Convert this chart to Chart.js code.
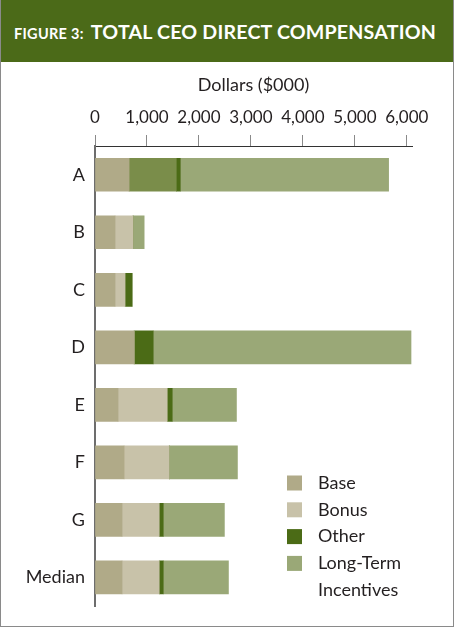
<!DOCTYPE html>
<html>
<head>
<meta charset="utf-8">
<script src="https://cdn.jsdelivr.net/npm/chart.js@4/dist/chart.umd.min.js"></script>
<style>
  html, body { margin: 0; padding: 0; background: #fff; }
  #wrap { position: relative; width: 454px; height: 627px; overflow: hidden; background: #fff; }
  #chart { position: absolute; left: 0; top: 0; }
  #head {
    position: absolute; left: 0; top: 0; width: 454px; height: 62px;
    background: #4b6a18; color: #fff; font-family: Lato, sans-serif;
    line-height: 64px; padding-left: 14px; box-sizing: border-box; white-space: nowrap;
  }
  #head .fig { font-size: 14.5px; font-weight: 700; letter-spacing: 0.3px; margin-right: 7px; }
  #head .main { font-size: 19.6px; font-weight: 700; letter-spacing: 0.2px; }
  #frame {
    position: absolute; left: 0; top: 0; width: 454px; height: 627px; box-sizing: border-box;
    border: 1px solid #8a8a8a; border-top: none; pointer-events: none;
  }
</style>
</head>
<body>
<div id="wrap">
  <canvas id="chart" width="454" height="627" style="width:454px;height:627px"></canvas>
  <div id="head"><span class="fig">FIGURE 3:</span><span class="main">TOTAL CEO DIRECT COMPENSATION</span></div>
  <div id="frame"></div>
</div>
<script>
// values in $000
const categories = ['A', 'B', 'C', 'D', 'E', 'F', 'G', 'Median'];
const base = [656, 386, 386, 753, 444, 560, 521, 521];
const bonus = [908, 347, 193, 0, 946, 869, 715, 715];
const other = [77, 0, 135, 367, 96, 0, 77, 77];
const longTerm = [4009, 213, 0, 4961, 1236, 1312, 1177, 1255];
const xTicks = [0, 1000, 2000, 3000, 4000, 5000, 6000];
const legendLabels = [['Base'], ['Bonus'], ['Other'], ['Long-Term', 'Incentives']];

document.addEventListener('DOMContentLoaded', function () {
    const textColor = '#231f20';
    const font = { family: 'Lato', size: 18 };

    // legend drawn inside the plot, bottom right
    const sideLegend = {
        id: 'sideLegend',
        afterDraw(chart) {
            const ctx = chart.ctx;
            ctx.save();
            ctx.font = '18px Lato';
            ctx.textBaseline = 'middle';
            let y = 483;
            chart.data.datasets.forEach((ds, i) => {
                ctx.fillStyle = ds.legendColor;
                ctx.fillRect(287, y - 7.5, 15, 15);
                ctx.fillStyle = textColor;
                legendLabels[i].forEach(line => {
                    ctx.fillText(line, 318, y);
                    y += 26.8;
                });
            });
            ctx.restore();
        }
    };

    const ctx = document.getElementById('chart').getContext('2d');
    new Chart(ctx, {
        type: 'bar',
        data: {
            labels: categories,
            datasets: [
                { label: 'Base', data: base, backgroundColor: '#b0aa88', legendColor: '#b0aa88' },
                { label: 'Bonus', data: bonus, backgroundColor: categories.map(c => c === 'A' ? '#7a8d4a' : '#c8c2a9'), legendColor: '#c8c2a9' },
                { label: 'Other', data: other, backgroundColor: '#4b6b16', legendColor: '#4b6b16' },
                { label: 'Long-Term Incentives', data: longTerm, backgroundColor: '#9aa877', legendColor: '#9aa877' }
            ]
        },
        options: {
            indexAxis: 'y',
            responsive: false,
            animation: false,
            barThickness: 33,
            layout: { padding: { top: 62, right: 42, bottom: 14, left: 0 } },
            plugins: { legend: { display: false }, tooltip: { enabled: false } },
            scales: {
                x: {
                    type: 'linear', position: 'top', stacked: true, min: 0, max: 6100,
                    afterBuildTicks(scale) { scale.ticks = xTicks.map(v => ({ value: v })); },
                    ticks: {
                        padding: 7, color: textColor, autoSkip: false, maxRotation: 0, minRotation: 0,
                        font: { family: 'Lato', size: 17 },
                        callback: v => v.toLocaleString('en-US')
                    },
                    grid: { drawOnChartArea: false, drawTicks: true, tickLength: 11, color: '#8a8a8a' },
                    border: { display: true, color: '#333', width: 1 },
                    title: { display: true, text: 'Dollars ($000)', color: textColor, font: font, padding: { top: 12, bottom: 0 } },
                    afterFit(scale) { scale.height = 84; }
                },
                y: {
                    stacked: true,
                    ticks: { color: textColor, font: font, padding: 10 },
                    grid: { display: false, drawTicks: false },
                    border: { display: true, color: '#6d6d6d', width: 2 },
                    afterFit(scale) { scale.width = 95; }
                }
            }
        },
        plugins: [sideLegend]
    });
});
</script>
</body>
</html>
